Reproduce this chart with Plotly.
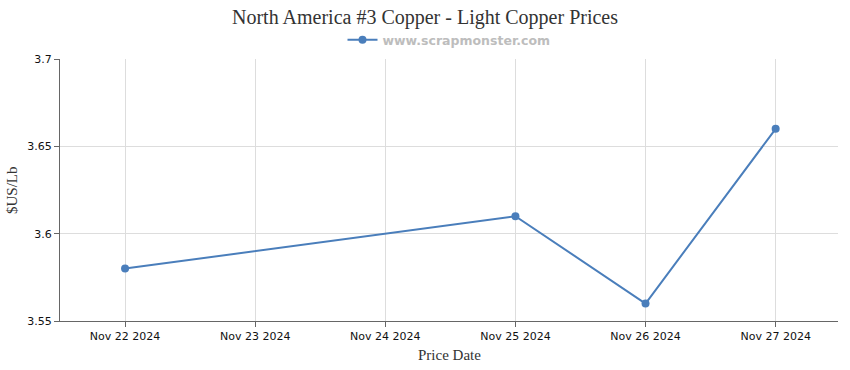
import plotly.graph_objects as go

dates = ["2024-11-22", "2024-11-25", "2024-11-26", "2024-11-27"]
prices = [3.58, 3.61, 3.56, 3.66]
tick_dates = ["2024-11-22", "2024-11-23", "2024-11-24", "2024-11-25", "2024-11-26", "2024-11-27"]
tick_labels = ["Nov 22 2024", "Nov 23 2024", "Nov 24 2024", "Nov 25 2024", "Nov 26 2024", "Nov 27 2024"]
y_ticks = [3.55, 3.6, 3.65, 3.7]
y_labels = ["3.55", "3.6", "3.65", "3.7"]

color = "#4a7ebb"
serif = "Liberation Serif, Times New Roman, serif"

fig = go.Figure()
fig.add_trace(go.Scatter(
    x=dates, y=prices, mode="lines+markers",
    name="www.scrapmonster.com",
    line=dict(color=color, width=2),
    marker=dict(color=color, size=8),
))

fig.update_layout(
    width=850, height=370,
    margin=dict(l=60, r=12, t=59, b=49, autoexpand=False),
    paper_bgcolor="white", plot_bgcolor="white",
    title=dict(text="North America #3 Copper - Light Copper Prices",
               x=0.5, xanchor="center", y=1 - 17 / 370, yanchor="middle",
               font=dict(family=serif, size=20, color="#333333")),
    showlegend=True,
    legend=dict(orientation="h", x=0.5, xanchor="center",
                yref="container", y=1 - 40 / 370, yanchor="middle",
                font=dict(family="DejaVu Sans, Verdana, sans-serif", size=12.5, color="#bdbdbd", weight="bold"),
                itemwidth=30, bgcolor="rgba(0,0,0,0)"),
    xaxis=dict(
        type="date", automargin=False,
        range=["2024-11-21 12:00", "2024-11-27 11:30"],
        tickvals=tick_dates, ticktext=tick_labels,
        showgrid=True, gridcolor="#dddddd", gridwidth=1,
        showline=True, linecolor="#666666", linewidth=1,
        ticks="outside", ticklen=5, tickcolor="#666666",
        tickfont=dict(family="DejaVu Sans, Tahoma, sans-serif", size=11, color="#111111"),
        zeroline=False,
    ),
    yaxis=dict(
        automargin=False,
        range=[3.55, 3.7],
        tickvals=y_ticks, ticktext=y_labels,
        showgrid=True, gridcolor="#dddddd", gridwidth=1,
        showline=True, linecolor="#666666", linewidth=1,
        ticks="outside", ticklen=5, tickcolor="#666666",
        tickfont=dict(family="DejaVu Sans, Tahoma, sans-serif", size=11, color="#111111"),
        zeroline=False,
    ),
    annotations=[
        dict(text="Price Date", xref="paper", yref="paper", x=0.5, y=-34 / 262,
             xanchor="center", yanchor="middle", showarrow=False,
             font=dict(family=serif, size=15, color="#333333")),
        dict(text="$US/Lb", xref="paper", yref="paper", x=-48 / 778, y=0.5,
             xanchor="center", yanchor="middle", showarrow=False, textangle=-90,
             font=dict(family=serif, size=15, color="#333333")),
    ],
)

fig.write_html("out.html", config={"displayModeBar": False},
               post_script="document.body.style.margin='0';")
